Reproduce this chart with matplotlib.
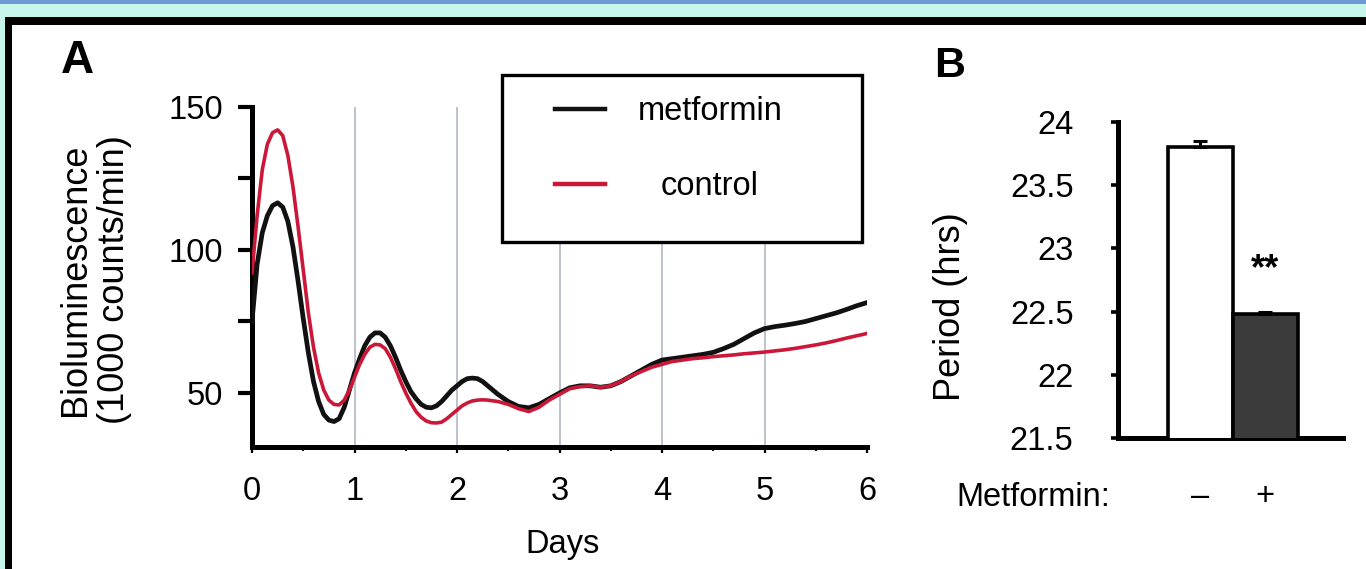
import matplotlib
matplotlib.use("Agg")
import matplotlib.pyplot as plt
from matplotlib.patches import Rectangle
import numpy as np

plt.rcParams['font.family'] = ['Liberation Sans', 'DejaVu Sans']

# ---------------- data ----------------
days = [0.0, 0.05, 0.1, 0.15, 0.2, 0.25, 0.3, 0.35, 0.4, 0.45, 0.5, 0.55, 0.6, 0.65,
        0.7, 0.75, 0.8, 0.85, 0.9, 0.95, 1.0, 1.05, 1.1, 1.15, 1.2, 1.25, 1.3, 1.35,
        1.4, 1.45, 1.5, 1.55, 1.6, 1.65, 1.7, 1.75, 1.8, 1.85, 1.9, 1.95, 2.0, 2.05,
        2.1, 2.15, 2.2, 2.25, 2.3, 2.4, 2.5, 2.6, 2.7, 2.8, 2.9, 3.0, 3.1, 3.2, 3.3,
        3.4, 3.5, 3.6, 3.7, 3.8, 3.9, 4.0, 4.1, 4.2, 4.3, 4.4, 4.5, 4.6, 4.7, 4.8,
        4.9, 5.0, 5.1, 5.2, 5.3, 5.4, 5.5, 5.6, 5.7, 5.8, 5.9, 6.0]

metformin = [75, 95, 106, 112, 115.5, 116.5, 115, 110, 101, 89, 76, 64, 54, 47,
             42.5, 40.5, 40, 41, 45, 51, 57, 62, 66.5, 69.5, 71, 71, 69.5, 66.5,
             62.5, 58, 54, 50.5, 48, 46, 45, 44.8, 45.5, 47, 49, 51, 52.5, 54,
             55, 55.2, 55, 54, 52.5, 49.5, 47, 45.3, 44.8, 46, 48, 50, 51.8, 52.5, 52.5,
             52, 52.5, 54, 56, 58, 60, 61.5, 62, 62.5, 63, 63.5, 64.2, 65.5, 67, 69,
             71, 72.5, 73.2, 73.7, 74.3, 75, 76, 77, 78, 79.2, 80.5, 81.6]

control = [92, 112, 128, 137, 141, 142, 140, 133, 122, 108, 93, 78, 66, 57,
           51, 47.5, 46, 45.8, 47.5, 51, 55.5, 60, 63.5, 66, 67, 66.8, 65.5, 62.5,
           58.5, 54, 50, 46.5, 43.5, 41.5, 40.2, 39.6, 39.5, 39.8, 41, 42.5, 44, 45.5,
           46.5, 47.2, 47.5, 47.6, 47.5, 47, 46, 44.5, 43.5, 45, 47.5, 49.5, 51.5, 52.2, 52.5,
           52, 52.5, 54, 56, 57.5, 59, 60, 61, 61.5, 62, 62.3, 62.7, 63, 63.3, 63.7,
           64, 64.3, 64.7, 65.1, 65.6, 66.2, 66.8, 67.5, 68.3, 69.2, 70, 70.8]

day_ticks = [0, 1, 2, 3, 4, 5, 6]
lum_ticks = [50, 75, 100, 125, 150]
lum_labels = ['50', '', '100', '', '150']

conditions = ['\u2013', '+']
period = [23.80, 22.48]
period_err = [0.05, 0.02]
period_ticks = [21.5, 22.0, 22.5, 23.0, 23.5, 24.0]
period_labels = ['21.5', '22', '22.5', '23', '23.5', '24']

# ---------------- figure ----------------
W, H = 1366, 569
fig = plt.figure(figsize=(W / 100, H / 100), dpi=100)
fig.patch.set_facecolor('white')


def fx(px):
    return px / W


def fy(py):
    return 1 - py / H


# decorative frame (top bands and left border)
for (x0, y0, w, h, c) in [
    (0, fy(4), 1, 4 / H, '#6b9bd2'),
    (0, fy(17), 1, 13 / H, '#c6f5e9'),
    (0, 0, 5 / W, fy(4), '#c6f5e9'),
    (fx(5), fy(25), 1, 8 / H, 'black'),
    (fx(5), 0, 7 / W, fy(17), 'black'),
]:
    fig.add_artist(Rectangle((x0, y0), w, h, transform=fig.transFigure,
                             facecolor=c, edgecolor='none', zorder=0))

FS = 23.5
VFS = 26
RED = '#cc1838'
BLK = '#111111'

# ---------------- panel A ----------------
axA = fig.add_axes([fx(252), fy(447), 615 / W, 340 / H])
lm, = axA.plot(days, metformin, color=BLK, lw=3.4, zorder=3, label='metformin')
lc, = axA.plot(days, control, color=RED, lw=2.6, zorder=4, label='control')
axA.set_xlim(0, 6)
axA.set_ylim(31.1, 150)
for d in day_ticks[1:-1]:
    axA.axvline(d, color='#b9bccb', lw=1.3, zorder=1)
for s in ['top', 'right']:
    axA.spines[s].set_visible(False)
for s in ['left', 'bottom']:
    axA.spines[s].set_linewidth(3.6)
axA.set_xticks(day_ticks)
axA.set_xticks(np.arange(0.5, 6, 1.0), minor=True)
axA.tick_params(axis='x', which='major', direction='out', length=4, width=1.6,
                pad=17, labelsize=FS)
axA.tick_params(axis='x', which='minor', direction='out', length=3, width=1.4)
axA.set_yticks(lum_ticks, lum_labels)
axA.tick_params(axis='y', direction='out', length=10, width=3, pad=11, labelsize=FS)
axA.set_xlabel('Days', fontsize=FS)
axA.xaxis.label.set_va('center')
axA.xaxis.set_label_coords((563 - 252) / 615, (447 - 545) / 340)
axA.set_ylabel('Bioluminescence\n(1000 counts/min)', fontsize=VFS, linespacing=1.12)
axA.yaxis.label.set_va('center')
axA.yaxis.set_label_coords((95 - 252) / 615, (447 - 280) / 340)

# legend with box
axA.add_patch(Rectangle((fx(502), fy(242)), 360 / W, 167 / H, transform=fig.transFigure,
                        facecolor='white', edgecolor='black', lw=2.4, zorder=4.5,
                        clip_on=False))
leg = axA.legend([lm, lc], ['metformin', 'control'], loc='upper left',
                 bbox_to_anchor=(fx(555), fy(96)), bbox_transform=fig.transFigure,
                 frameon=False, borderpad=0, borderaxespad=0,
                 handlelength=50 / 32.6, handletextpad=1.0, labelspacing=1.35,
                 fontsize=FS)
leg.set_zorder(6)
for h in leg.get_lines():
    h.set_linewidth(3.2)
leg.get_texts()[1].set_x(23)

fig.text(fx(77), fy(61), 'A', fontsize=33, fontweight='bold', ha='center', va='center')

# ---------------- panel B ----------------
axB = fig.add_axes([fx(1118), fy(438), 225 / W, 316 / H])
xpos = np.arange(len(conditions))
axB.bar(xpos, period, width=1.0, color=['white', '#3b3b3b'], edgecolor='black',
        linewidth=2.6, yerr=[[0] * len(period), period_err],
        error_kw=dict(ecolor='black', elinewidth=2.2, capsize=5, capthick=2.2), zorder=3)
axB.set_ylim(21.5, 24)
axB.set_xlim(-1.27, 2.2)
for s in ['top', 'right']:
    axB.spines[s].set_visible(False)
for s in ['left', 'bottom']:
    axB.spines[s].set_linewidth(3.6)
axB.set_yticks(period_ticks, period_labels)
axB.tick_params(axis='y', direction='out', length=5, width=2.6, pad=27, labelsize=FS)
axB.set_xticks(xpos, conditions)
axB.tick_params(axis='x', length=0, pad=31, labelsize=FS)
axB.text(xpos[1], period[1] + 0.35, '**', ha='center', va='center', fontsize=26,
         fontweight='bold')
axB.set_ylabel('Period (hrs)', fontsize=VFS)
axB.yaxis.label.set_va('center')
axB.yaxis.set_label_coords((950 - 1118) / 225, (438 - 307) / 316)
fig.text(fx(1110), fy(497), 'Metformin:', fontsize=FS, ha='right', va='center')
fig.text(fx(950), fy(66), 'B', fontsize=31, fontweight='bold', ha='center', va='center')

fig.savefig('out.png', dpi=100)
